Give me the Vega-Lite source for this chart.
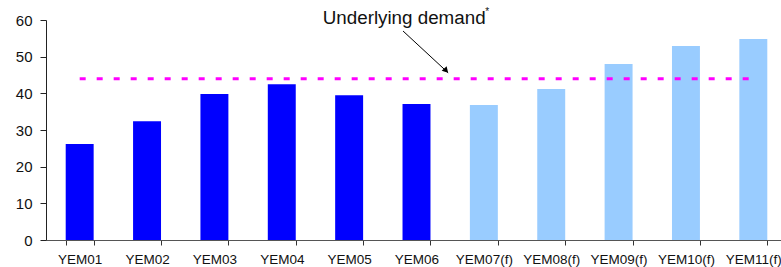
{
  "$schema": "https://vega.github.io/schema/vega-lite/v6.json",
  "width": 741,
  "height": 220,
  "autosize": "none",
  "padding": {"left": 46, "top": 20, "right": 0, "bottom": 27},
  "background": "white",
  "config": {
    "view": {"stroke": null},
    "font": "Liberation Sans",
    "axis": {"grid": false}
  },
  "datasets": {
    "bars": [
      {"year": "YEM01", "value": 26.2, "type": "actual"},
      {"year": "YEM02", "value": 32.4, "type": "actual"},
      {"year": "YEM03", "value": 39.8, "type": "actual"},
      {"year": "YEM04", "value": 42.5, "type": "actual"},
      {"year": "YEM05", "value": 39.5, "type": "actual"},
      {"year": "YEM06", "value": 37.1, "type": "actual"},
      {"year": "YEM07(f)", "value": 36.8, "type": "forecast"},
      {"year": "YEM08(f)", "value": 41.2, "type": "forecast"},
      {"year": "YEM09(f)", "value": 48.0, "type": "forecast"},
      {"year": "YEM10(f)", "value": 52.9, "type": "forecast"},
      {"year": "YEM11(f)", "value": 54.8, "type": "forecast"}
    ],
    "demand": [{"x": 0.5, "x2": 10.55, "value": 44}],
    "arrow": [{"x": 5.3, "value": 57.0, "x2": 5.97, "value2": 45.6}],
    "head": [{"x": 5.94, "value": 46.2}],
    "label": [{"x": 4.108, "value": 58.9, "text": "Underlying demand"}],
    "star": [{"x": 6.52, "value": 62.2, "text": "*"}]
  },
  "encoding": {
    "y": {
      "field": "value", "type": "quantitative", "title": null,
      "scale": {"domain": [0, 60], "nice": false, "zero": true},
      "axis": {"tickCount": 7, "tickMinStep": 10, "labelOverlap": false, "labelBound": false, "labelFlush": false, "domainColor": "#222222", "tickColor": "#222222", "tickSize": 6, "labelFontSize": 15, "labelColor": "#111111", "labelPadding": 8, "title": null}
    }
  },
  "layer": [
    {
      "data": {"name": "bars"},
      "mark": {"type": "bar"},
      "encoding": {
        "x": {
          "field": "year", "type": "nominal", "sort": null, "title": null,
          "scale": {"paddingInner": 0.585, "paddingOuter": 0.2925},
          "axis": {"labelAngle": 0, "tickBand": "extent", "domainColor": "#555555", "tickColor": "#333333", "tickSize": 5, "labelFontSize": 13.5, "labelColor": "#111111", "labelPadding": 7, "labelOverlap": false}
        },
        "color": {
          "field": "type", "type": "nominal", "legend": null,
          "scale": {"domain": ["actual", "forecast"], "range": ["#0000FF", "#99CCFF"]}
        }
      }
    },
    {
      "data": {"name": "demand"},
      "mark": {"type": "rule", "color": "#FF00FF", "strokeWidth": 3, "strokeDash": [6, 11]},
      "encoding": {
        "x": {"field": "x", "type": "quantitative", "scale": {"domain": [0, 11], "nice": false}, "axis": null},
        "x2": {"field": "x2"}
      }
    },
    {
      "data": {"name": "arrow"},
      "mark": {"type": "rule", "color": "#000000", "strokeWidth": 1},
      "encoding": {
        "x": {"field": "x", "type": "quantitative", "scale": {"domain": [0, 11], "nice": false}, "axis": null},
        "x2": {"field": "x2"},
        "y2": {"field": "value2"}
      }
    },
    {
      "data": {"name": "head"},
      "mark": {"type": "point", "shape": "triangle-up", "filled": true, "color": "#000000", "opacity": 1, "size": 45, "angle": 137},
      "encoding": {
        "x": {"field": "x", "type": "quantitative", "scale": {"domain": [0, 11], "nice": false}, "axis": null}
      }
    },
    {
      "data": {"name": "label"},
      "mark": {"type": "text", "align": "left", "baseline": "alphabetic", "fontSize": 18.8, "color": "#111111"},
      "encoding": {
        "x": {"field": "x", "type": "quantitative", "scale": {"domain": [0, 11], "nice": false}, "axis": null},
        "text": {"field": "text"}
      }
    },
    {
      "data": {"name": "star"},
      "mark": {"type": "text", "align": "left", "baseline": "middle", "fontSize": 10, "color": "#111111"},
      "encoding": {
        "x": {"field": "x", "type": "quantitative", "scale": {"domain": [0, 11], "nice": false}, "axis": null},
        "text": {"field": "text"}
      }
    }
  ],
  "resolve": {"scale": {"x": "independent"}}
}
